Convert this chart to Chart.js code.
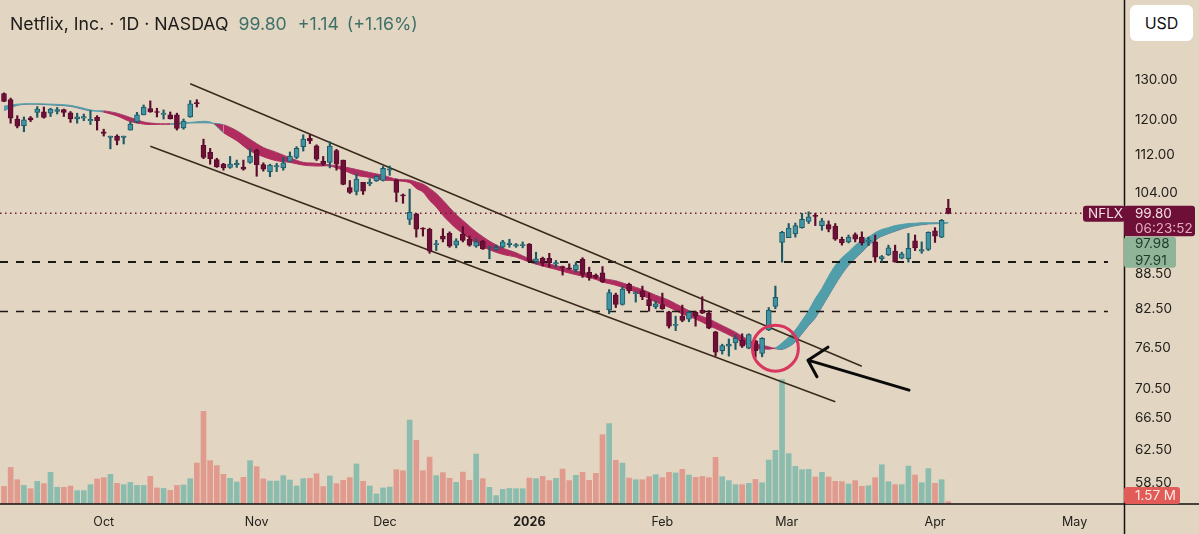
<!DOCTYPE html>
<html><head><meta charset="utf-8">
<script src="https://cdn.jsdelivr.net/npm/chart.js@4"></script>
<style>
html,body{margin:0;padding:0;background:#e2d6c2;width:1199px;height:534px;overflow:hidden}
canvas{position:absolute;left:0;top:0}
#title{position:absolute;left:10px;top:13px;font:17.7px Inter,sans-serif;color:#1d1b19;white-space:pre;z-index:2}
#title span{color:#3f7068}
#title .a{margin-left:10px}#title .b{margin-left:11px}#title .c{margin-left:8px}
#usd{position:absolute;left:1130px;top:5px;width:63px;height:36px;border-radius:6px;background:#fff;color:#111;font:16px/36px Inter,sans-serif;text-align:center;z-index:2}
</style></head><body>
<canvas id="c" width="1199" height="534"></canvas>
<div id="title">Netflix, Inc. · 1D · NASDAQ<span class="a">99.80</span><span class="b">+1.14</span><span class="c">(+1.16%)</span></div>
<div id="usd">USD</div>
<script>
const opens=[126.5,125,120.3,118.7,120.6,121.9,122,121.7,122.1,122.6,
121.8,120.3,120.5,119.9,120.7,117.3,116,116.3,116,117.7,
119.7,121.3,122.8,122.1,121.4,121.3,121.3,118.2,120.8,124.3,
114.2,112.6,111,110,109.3,109.9,109.4,110.4,113.1,109.9,
108.4,109.4,109.2,110.6,111.5,113.9,115.8,114.1,110.7,110.4,
113,110.9,105,104.2,106.1,105.8,106.4,106.5,108.7,106.6,
103.5,98.6,99.7,96.9,96.7,93.8,95.4,95.9,93.7,95.8,
94.8,93.5,94.4,93.3,92.9,93.3,93.8,93.5,93.6,93.9,
90.7,91.3,91.3,90.3,89.8,89.6,89.2,91.1,88.8,88.3,
88.7,82.4,84.9,83.3,86.7,85.1,85.5,84.1,82.9,83.3,
82.1,79.9,81.4,80.9,82,82.4,81.9,78.9,76,76.7,
77.2,77.6,76.4,77.5,75.6,79.2,83,94.2,95.1,95.8,
97,98.2,99.4,97.4,97.6,97.3,94.8,94.3,95.7,95.2,
94.4,94.3,91.2,91.9,92.6,91.3,91.2,94.5,92.6,92.9,
96.4,95.2,100.8];
const closes=[124.6,120.5,118.6,120.1,120.1,122.7,120.7,122.7,122.6,121.9,
120.3,120.8,120.9,120.2,119.9,116.9,116.3,115.3,116.3,119.1,
121.3,123.2,122,121.9,121.7,120.3,118.1,119.8,124,124,
111.5,111.2,109.4,109.2,110,110.2,108.9,111.8,109.9,108.9,
109.8,109.7,110.3,111.8,113.5,115.6,115.2,111.1,110,114,
110,105.7,104,106.8,104.3,106.1,107.4,109.1,109,104,
103.3,100,96.7,96.7,92.6,94,94.8,93.5,94.5,94.6,
93.7,94.3,93,93.4,93.3,94.3,94.1,93.8,93.8,90.8,
91.2,90.4,90.5,90.5,89.6,89.4,90.1,88.4,87.9,87.9,
87.1,85.3,83.3,85.9,85.6,85.3,84.6,83.1,83.4,82.6,
79.8,80.1,80.7,82,81.4,81.9,79.5,75.8,76.8,77,
77.9,76.7,78.5,76,77.9,82.4,84.5,96.1,96.9,97.4,
98.6,99.1,99.2,98.3,96.7,94.8,94.1,95.2,94.8,94.1,
94.6,91.5,91.6,93.2,90.6,92.1,93.1,93.2,92.9,96.1,
95.4,98.4,99.8];
const highs=[126.7,125.4,121.1,120.8,120.9,123.3,123.2,122.9,123.1,122.7,
122.1,121.7,121.5,122.3,121.1,117.9,116.3,116.6,116.3,119.7,
121.9,123.7,124.7,122.9,122.5,122,121.7,120.3,124.8,125,
115.6,113.5,111.3,110.2,111.7,110.9,110.9,113.5,113.3,110.3,
110,110.2,111.5,112.7,113.9,116.6,116.6,114.3,111.7,115,
113.3,110.9,106.5,107.9,106.1,106.9,107.6,109.5,109.6,106.8,
103.7,104.7,99.8,97,96.9,94.6,96.8,96.2,94.9,97.2,
95.4,94.9,94.6,93.5,93.7,94.6,94.8,94,94.3,94,
92.4,91.5,92.2,90.9,89.9,90.3,90.6,91.4,89.7,88.5,
89.8,85.8,85.2,86.3,86.9,85.4,86.4,85.2,83.9,85.2,
82.2,81.4,83.2,82.2,82.2,84.6,82.3,79,77,77.8,
78.4,78.6,78.6,77.6,78,82.8,86.4,96.3,97.8,97.9,
99.8,100.1,99.8,98.8,98.3,97.8,95.2,95.6,96,96.2,
95.2,95.6,91.8,93.7,93.7,92.4,95.9,95.6,94.3,96.2,
97,98.6,102.6];
const lows=[124.5,119.3,118.2,117.3,119.7,120.7,120.5,120.9,121.5,120.9,
119.5,119.3,119.9,119,117.7,116.3,113.4,114.3,114.5,117.7,
119.4,121.3,121.9,120.8,120.3,120.3,117.7,117.9,120.7,123.2,
111.2,110,109.3,108.7,109.1,109.3,108.7,110.2,107.4,108.5,
107.3,108.4,108.7,110.5,111.2,112.9,114.6,110.8,109.7,109.2,
108.7,105.6,103.8,103.5,103.6,105.4,106.3,106.4,107.6,102.1,
101.8,97.6,95.2,95.4,92.2,92.7,94.3,93.3,93.2,94.3,
93.5,93.3,92.9,91.2,92.7,93.2,93.3,93.3,93.2,90.7,
90.3,89.9,89.7,89.7,88.3,89.3,88.8,87.9,87.4,87.7,
87,81.8,82.8,83.2,85.2,83.7,84.1,82.2,82.6,82.5,
79.5,79.1,80.5,80.5,79.8,81.8,79.4,75.2,75.5,75.2,
76.2,76.5,76.3,75,75.1,79.1,82.6,90.6,95.1,95.2,
96.9,97.8,97.4,96.5,96.2,94.6,93.7,94.1,94.3,93.7,
93.6,90.6,90.6,91.8,90.6,91.2,90.6,92.7,92.2,92.7,
94.2,95.1,99.7];
const volumes=[11.8,24.4,16.2,12.4,10.2,15.1,13.6,21.1,11.1,11.1,
12,8.9,8.9,12.9,16.7,17.6,19.8,13.8,12.9,14.4,
12.4,12.4,18.4,10.7,10.4,9.1,12.4,12.7,16.9,27.3,
61.8,28.9,25.6,19.8,17.1,14.7,17.8,28.9,24.9,16.7,
15.3,15.3,18.9,16,12,16.9,17.1,20.2,11.6,18.7,
13.6,15.8,17.6,26.7,15.1,12,6.7,10.7,11.3,22.9,
22.2,56,42.4,22.2,31.3,18.9,20.9,17.1,14.4,21.3,
15.8,33.3,16.9,11.1,5.6,9.8,10.4,10.2,10.2,17.3,
16.9,18.4,15.6,17.1,23.3,15.6,19.1,21.1,15.8,20.4,
46.2,53.6,29.1,27.3,17.3,16.2,16.2,18.2,19.6,17.6,
21.1,20.7,23.1,19.3,17.8,18.4,17.6,31.1,18.2,15.6,
12.9,12.9,13.8,16.4,14.2,29.3,35.8,83,33.6,25.1,
22.9,23.1,18,21.1,18,15.1,14.9,13.3,15.6,11.8,
12.2,17.6,26.2,14.9,12.9,12.9,25.3,19.3,14.2,23.6,
13.8,16.2,1.57];
const ribbonIdx=[0,2,4,7,10,13,15,17,19,21,22,25,28,31,33,35,37,39,41,43,45,47,49,51,53,55,57,59,61,62,63,64,65,66,67,68,69,71,73,75,77,79,81,83,85,87,89,90,92,94,96,98,100,102,104,106,108,110,112,113,114,115,116,117,118,119,120,121,122,123,124,125,126,127,128,129,130,131,132,133,134,135,136,137,138,139,140,141,142];
const ribbonFast=[123.4,123.9,124,123.9,123.6,122.5,121.95,121.05,119.7,119.1,119,119.2,119.5,119.6,117.1,115.25,112.95,111.65,110.75,110.4,109.8,109.6,109.6,108.7,107.6,107.15,106.6,106.45,106.05,104.85,104.1,102.4,101.05,99.4,98.05,96.85,95.9,94,92.85,92,91.5,90.6,89.9,89.3,88.65,88.1,87.55,87.1,86.55,85.8,84.85,83.7,82.85,81.75,80.95,79.9,78.95,77.9,76.7,76.3,76.3,76.25,76.45,77.2,78.1,79.2,80.7,82.3,84.3,86,88.1,90,91.4,92.45,93.65,94.6,95.2,96.05,96.65,97,97.4,97.6,97.8,97.85,97.95,97.95,97.95,97.95,97.98];
const ribbonSlow=[122.3,123.6,123.9,123.7,123.35,122.25,122.25,121.7,120.65,119.6,119.35,119.05,119.35,119.35,118.95,117.55,115.55,113.7,112.6,111.4,110.4,110.2,109.85,109.45,108.85,108.2,107.6,106.8,106.6,106.2,105.75,104.85,103.8,102.4,100.95,99.55,98.4,96.2,94.45,93.15,92.3,91.2,90.5,90,89.3,88.8,88.1,87.7,87.3,86.55,85.8,84.85,84,82.85,81.75,80.95,79.9,78.85,77.6,77.1,76.85,76.6,76.3,76.2,76.6,77.35,78.6,79.9,81.1,82.9,84.75,86.65,88.45,90,91.25,92.4,93.65,94.6,95.35,95.85,96.3,96.75,97.1,97.35,97.55,97.7,97.75,97.8,97.91];
const channelUpperIdx=[28,129], channelUpperVal=[129,73.7];
const channelLowerIdx=[22,125], channelLowerVal=[114,68.7];
const dashedLevels=[90.6,82.15];
const dashThickness=[2,1.5];
const circleIdx=116, circleVal=76.4;
const arrowIdx=[136.1,120.9,123.9,120.9,122.25], arrowVal=[70.3,74.6,76.55,74.6,72.2];
const priceTicks=[130,120,112,104,88.5,82.5,76.5,70.5,66.5,62.5,58.5];
const monthTicks=[15,38,57.3,79,99,117.7,140,161];
const monthLabels=['Oct','Nov','Dec','2026','Feb','Mar','Apr','May'];
const lastPrice=99.80, lastVolume='1.57 M', countdown='06:23:52', maLevels=[97.98,97.91], ticker='NFLX';

const upBody='#3f93a3', upEdge='#1e5a66', dnBody='#6e0f37', dnEdge='#5b0b2d';
const volUp='#8cbcae', volDn='#e09a8e', ribTeal='#4f9eaa', ribRed='#b02b5e';
const up=i=>closes[i]>=opens[i];
const idx=opens.map((_,i)=>i);
const xyLine=(xs,ys)=>xs.map((x,i)=>({x,y:ys[i]}));

const tags={id:'tags',afterDraw(c){
  const g=c.ctx,a=c.chartArea,Y=c.scales.y;
  g.save();
  g.strokeStyle='#14110e';g.lineWidth=1.5;g.beginPath();
  g.moveTo(a.right+.5,0);g.lineTo(a.right+.5,c.height);
  g.moveTo(0,a.bottom);g.lineTo(c.width,a.bottom);g.stroke();
  const py=Y.getPixelForValue(lastPrice);
  const box=(x,y,w,h,col)=>{g.fillStyle=col;g.beginPath();g.roundRect(x,y,w,h,3);g.fill();};
  box(a.right-41,py-7.5,42,16,dnBody);
  box(a.right,py-7.5,71,30.5,dnBody);
  box(a.right,py+23.5,52,31,'#8fb498');
  box(a.right,487,56,17,'#e15c56');
  g.font='13.5px Inter,sans-serif';g.textBaseline='middle';g.textAlign='left';
  g.fillStyle='#f3dfe3';g.fillText(ticker,a.right-36,py+.5);
  g.fillText(lastPrice.toFixed(2),a.right+11,py+.5);
  g.fillStyle='#e5acc0';g.fillText(countdown,a.right+11,py+15.5);
  g.fillStyle='#1f3b2c';
  g.fillText(maLevels[0].toFixed(2),a.right+11,py+31);
  g.fillText(maLevels[1].toFixed(2),a.right+11,py+47.5);
  g.fillStyle='#fbe9e4';g.fillText(lastVolume,a.right+11,496);
  g.restore();
}};

new Chart(document.getElementById('c'),{
  type:'bar',
  data:{datasets:[
    {label:'Volume',yAxisID:'vol',order:9,barThickness:5,grouped:false,
     data:idx.map(i=>({x:i,y:volumes[i]})),backgroundColor:idx.map(i=>up(i)?volUp:volDn)},
    {type:'line',label:'Fast',order:8,data:xyLine(ribbonIdx,ribbonFast),tension:.3,pointRadius:0,borderWidth:1,
     fill:{target:'+1',above:ribTeal,below:ribRed},
     segment:{borderColor:s=>ribbonFast[s.p0DataIndex]>=ribbonSlow[s.p0DataIndex]?ribTeal:ribRed}},
    {type:'line',label:'Slow',order:8,data:xyLine(ribbonIdx,ribbonSlow),tension:.3,pointRadius:0,borderWidth:1,fill:false,
     segment:{borderColor:s=>ribbonFast[s.p0DataIndex]>=ribbonSlow[s.p0DataIndex]?ribTeal:ribRed}},
    ...dashedLevels.map((v,k)=>({type:'line',label:'Level '+v,order:7,pointRadius:0,borderColor:'#1b1712',borderWidth:dashThickness[k],borderDash:[8,8],
      data:xyLine([-0.6,166],[v,v])})),
    {type:'line',label:'Last',order:7,pointRadius:0,borderColor:'#6b1f38',borderWidth:1.5,borderDash:[1.5,3.5],
     data:xyLine([-0.6,162.4],[lastPrice,lastPrice])},
    {type:'line',label:'Channel upper',order:6,pointRadius:0,borderColor:'#3a2a1c',borderWidth:1.5,data:xyLine(channelUpperIdx,channelUpperVal)},
    {type:'line',label:'Channel lower',order:6,pointRadius:0,borderColor:'#3a2a1c',borderWidth:1.5,data:xyLine(channelLowerIdx,channelLowerVal)},
    {label:'Wick',order:4,barThickness:1.5,grouped:false,
     data:idx.map(i=>({x:i,y:[lows[i],highs[i]]})),backgroundColor:idx.map(i=>up(i)?upEdge:dnEdge)},
    {label:'Body',order:3,barThickness:5,grouped:false,borderWidth:1,borderSkipped:false,
     data:idx.map(i=>({x:i,y:[opens[i],closes[i]]})),
     backgroundColor:idx.map(i=>up(i)?upBody:dnBody),borderColor:idx.map(i=>up(i)?upEdge:dnEdge)},
    {type:'line',label:'Circle',order:2,showLine:false,data:[{x:circleIdx,y:circleVal}],pointStyle:'circle',pointRadius:23,
     pointBorderWidth:3,pointBackgroundColor:'rgba(0,0,0,0)',pointBorderColor:'#d8365f'},
    {type:'line',label:'Arrow',order:1,pointRadius:0,borderColor:'#0a0a0a',borderWidth:3,borderCapStyle:'round',borderJoinStyle:'round',
     data:xyLine(arrowIdx,arrowVal)}
  ]},
  options:{
    responsive:false,animation:false,devicePixelRatio:1,
    layout:{padding:0,autoPadding:false},
    plugins:{legend:{display:false},tooltip:{enabled:false},title:{display:false}},
    scales:{
      x:{type:'linear',offset:false,min:-0.6,max:168.42,position:'bottom',
        grid:{display:false,drawTicks:false},border:{display:false},
        afterBuildTicks:s=>{s.ticks=monthTicks.map(v=>({value:v}));},
        afterFit:s=>{s.height=30;s.paddingLeft=0;s.paddingRight=0;},
        ticks:{autoSkip:false,maxRotation:0,padding:10.5,color:'#23201c',
          callback:(v,i)=>monthLabels[i],
          font:c=>({family:'Inter,sans-serif',size:12.5,weight:monthLabels[c.index]==='2026'?'bold':'normal'})}},
      y:{type:'logarithmic',position:'right',min:56.1,max:152.3,
        grid:{display:false,drawTicks:false},border:{display:false},
        afterBuildTicks:s=>{s.ticks=priceTicks.slice().reverse().map(v=>({value:v}));},
        afterFit:s=>{s.width=75;s.paddingTop=0;s.paddingBottom=0;},
        ticks:{autoSkip:false,padding:11,color:'#23201c',align:'center',crossAlign:'near',
          callback:v=>Number(v).toFixed(2),font:{family:'Inter,sans-serif',size:13.5}}},
      vol:{type:'linear',display:false,min:0,max:336}
    }
  },
  plugins:[tags]
});
</script>
</body></html>
